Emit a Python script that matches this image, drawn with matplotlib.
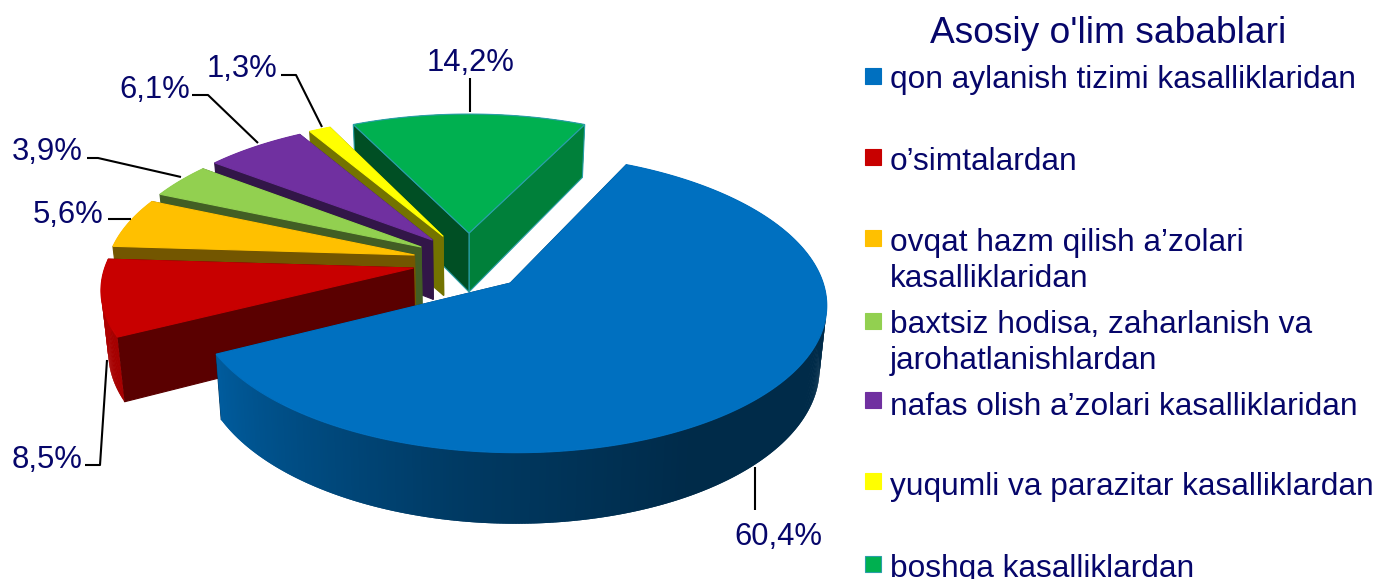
import numpy as np
import matplotlib
matplotlib.use("Agg")
import matplotlib.pyplot as plt

# data, clockwise starting with the big blue slice
causes = ["qon aylanish tizimi kasalliklaridan",
          "o’simtalardan",
          "ovqat hazm qilish a’zolari\nkasalliklaridan",
          "baxtsiz hodisa, zaharlanish va\njarohatlanishlardan",
          "nafas olish a’zolari kasalliklaridan",
          "yuqumli va parazitar kasalliklardan",
          "boshqa kasalliklardan"]
shares = [60.4, 8.5, 5.6, 3.9, 6.1, 1.3, 14.2]
colors = ["#0070c0", "#c80000", "#ffc000", "#92d050", "#7030a0", "#ffff00", "#00b050"]
title = "Asosiy o'lim sabablari"

NAVY = "#06066a"
TEAL = "#2a9fa8"

# fake 3d camera, in pixels of the picture
CX, CY = 469, 262
RX, RY = 307, 141.5
PERSP = 0.13
THICK = 60.5
EXPLODE_X = 0.184
EXPLODE_Y = 0.21

# label text position and leader line for each slice
label_pos = [(778, 545), (47, 468), (68, 223), (47, 160), (155, 98), (242, 77), (471, 71)]
leaders = [[(755, 467), (755, 510)],
           [(107, 360), (100, 465), (85, 465)],
           [(131, 219), (108, 219)],
           [(181, 177), (98, 158), (87, 158)],
           [(258, 143), (208, 95), (192, 95)],
           [(322, 127), (296, 75), (281, 75)],
           [(470, 112), (470, 78)]]
legend_y = [76, 157, 238, 321, 400, 481, 564]
legend_base = [88, 170, 251, 333, 415, 495, 577]


def project(wx, wy, bottom=False):
    w = 1 + PERSP * wy
    sx = CX + RX * wx / w
    sy = CY - RY * wy / w
    if bottom:
        sx = CX + (sx - CX) * 0.98
        sy = sy + THICK / w
    return sx, sy


def shade(color, factor):
    return tuple(c * factor for c in matplotlib.colors.to_rgb(color))


def rim_factor(angle):
    # how light the outer wall is, angle in degrees clockwise from north
    return np.interp(angle % 360, [0, 90, 150, 190, 243, 275, 360],
                     [0.7, 0.38, 0.38, 0.52, 0.82, 0.9, 0.7])


def draw_wall(ax, ang, tx, ty, bx, by, color, far):
    # thin strips that overlap, so that the wall gets a gradient without seams
    n = len(ang)
    for i in range(n - 1):
        mid = (ang[i] + ang[i + 1]) / 2
        if (np.cos(np.radians(mid)) > 0.05) != far:
            continue
        j = min(i + 2, n - 1)
        c = shade(color, rim_factor(mid))
        ax.fill([tx[i], tx[i + 1], tx[j], bx[j], bx[i + 1], bx[i]],
                [ty[i], ty[i + 1], ty[j], by[j], by[i + 1], by[i]],
                facecolor=c, edgecolor="none")


def draw_slice(ax, a0, a1, color, edge=None):
    mid = np.radians((a0 + a1) / 2)
    ox, oy = EXPLODE_X * np.sin(mid), EXPLODE_Y * np.cos(mid)
    ang = np.linspace(a0, a1, max(int(a1 - a0) * 2, 6))
    arc_x = ox + np.sin(np.radians(ang))
    arc_y = oy + np.cos(np.radians(ang))
    tx, ty = project(arc_x, arc_y)
    bx, by = project(arc_x, arc_y, bottom=True)

    # far part of the wall, then the cut faces, then the near part
    draw_wall(ax, ang, tx, ty, bx, by, color, True)
    ax_t, ay_t = project(ox, oy)
    ax_b, ay_b = project(ox, oy, bottom=True)
    for idx, factor in ((-1, 0.73 if a1 % 360 < 90 else 0.45), (0, 0.45)):
        c = shade(color, factor)
        ax.fill([ax_t, tx[idx], bx[idx], ax_b], [ay_t, ty[idx], by[idx], ay_b],
                facecolor=c, edgecolor=edge if edge else c, linewidth=0.8)
    draw_wall(ax, ang, tx, ty, bx, by, color, False)

    # the top
    ax.fill(np.r_[ax_t, tx], np.r_[ay_t, ty], facecolor=color,
            edgecolor=edge if edge else color, linewidth=0.8)


plt.rcParams["font.family"] = ["Liberation Sans", "DejaVu Sans"]
fig = plt.figure(figsize=(13.79, 5.79), dpi=100)
ax = fig.add_axes([0, 0, 1, 1])
ax.set_xlim(0, 1379)
ax.set_ylim(579, 0)
ax.axis("off")

# angle of each slice, the last one is centered on north
sweep = np.array(shares) / sum(shares) * 360
starts = sweep[-1] / 2 + np.r_[0, np.cumsum(sweep)[:-1]]

# painter order, far slices first
for i in [6, 5, 4, 3, 2, 1, 0]:
    draw_slice(ax, starts[i], starts[i] + sweep[i], colors[i], edge=TEAL if i == 6 else None)

for i in range(len(shares)):
    xs, ys = zip(*leaders[i])
    ax.plot(xs, ys, color="black", linewidth=1.5, solid_capstyle="butt")
    ax.text(label_pos[i][0], label_pos[i][1], f"{shares[i]:.1f}".replace(".", ",") + "%",
            color=NAVY, fontsize=22.3, ha="center", va="baseline")

# legend by hand, the spacing is not regular
ax.text(1108, 43, title, color=NAVY, fontsize=26.7, ha="center", va="baseline")
for i in range(len(causes)):
    ax.add_patch(plt.Rectangle((865, legend_y[i] - 8), 16, 16, facecolor=colors[i],
                               edgecolor=TEAL if i == 6 else colors[i], linewidth=0.8))
    for k, line in enumerate(causes[i].split("\n")):
        ax.text(890, legend_base[i] + k * 36, line, color=NAVY, fontsize=22.8,
                ha="left", va="baseline")

fig.savefig("out.png", dpi=100)
